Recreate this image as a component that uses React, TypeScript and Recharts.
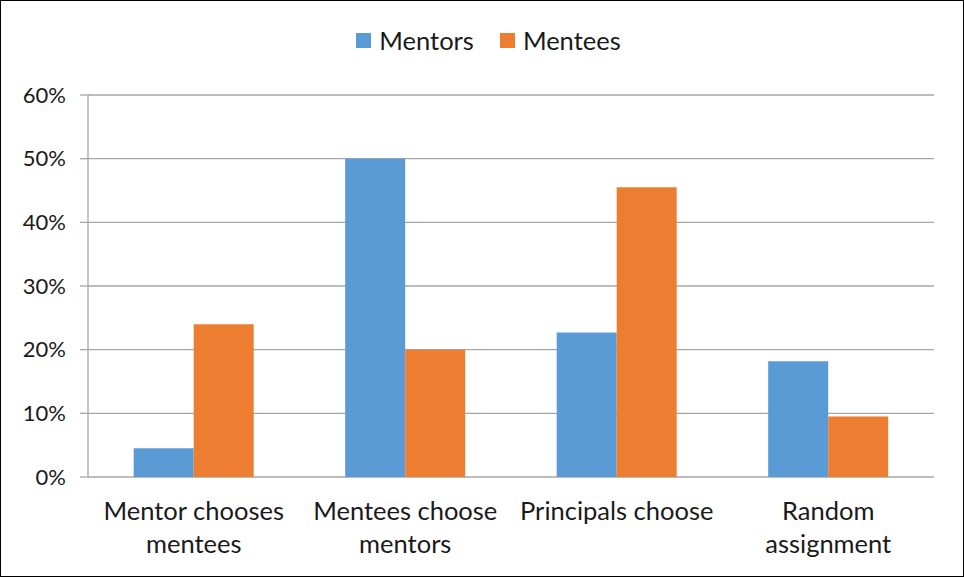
import { BarChart, Bar, XAxis, YAxis, CartesianGrid, Legend } from 'recharts';

const categories = ['Mentor chooses\nmentees', 'Mentees choose\nmentors', 'Principals choose', 'Random\nassignment'];
const mentors = [0.045, 0.5, 0.227, 0.182];
const mentees = [0.24, 0.2, 0.455, 0.095];
const yTicks = [0, 0.1, 0.2, 0.3, 0.4, 0.5, 0.6];
const edgeTicks = [0, 1, 2, 3, 4];

const SERIES = [
  { key: 'mentors', name: 'Mentors', color: '#5B9BD5' },
  { key: 'mentees', name: 'Mentees', color: '#ED7D31' },
];

const FONT = 'Lato, "Open Sans", sans-serif';
const GRID = '#a6a6a6';

const data = categories.map((c, i) => ({ category: c, mentors: mentors[i], mentees: mentees[i] }));

function CategoryTick({ x, y, payload }: any) {
  const lines = String(payload.value).split('\n');
  return (
    <text x={x} y={y} textAnchor="middle" fontFamily={FONT} fontSize={25.5} fill="#1a1a1a">
      {lines.map((line, i) => (
        <tspan key={i} x={x} dy={i === 0 ? 35 : 33}>
          {line}
        </tspan>
      ))}
    </text>
  );
}

function LegendContent() {
  return (
    <div style={{ display: 'flex', justifyContent: 'center', fontFamily: FONT, fontSize: 25.5, color: '#1a1a1a' }}>
      {SERIES.map((s) => (
        <div key={s.key} style={{ display: 'flex', alignItems: 'center', margin: '0 13px' }}>
          <span style={{ width: 15, height: 15, background: s.color, display: 'inline-block', marginRight: 8 }} />
          <span>{s.name}</span>
        </div>
      ))}
    </div>
  );
}

export default function App() {
  return (
    <div
      style={{
        position: 'fixed',
        left: 0,
        top: 0,
        width: 964,
        height: 577,
        boxSizing: 'border-box',
        border: '1px solid #000',
        background: '#fff',
      }}
    >
      <BarChart
        width={962}
        height={575}
        data={data}
        margin={{ top: 94, right: 29, left: 0, bottom: 0 }}
        barCategoryGap="21.6%"
        barGap={0}
      >
        <CartesianGrid xAxisId="cat" vertical={false} stroke={GRID} strokeWidth={1.3} />
        <XAxis
          xAxisId="edge"
          type="number"
          domain={[0, 4]}
          ticks={edgeTicks}
          tick={false}
          tickSize={8}
          height={0}
          stroke={GRID}
          strokeWidth={1.3}
        />
        <XAxis
          xAxisId="cat"
          dataKey="category"
          axisLine={false}
          tickLine={false}
          interval={0}
          height={99}
          tick={<CategoryTick />}
        />
        <YAxis
          width={87}
          domain={[0, 0.6]}
          ticks={yTicks}
          tickFormatter={(v: number) => `${Math.round(v * 100)}%`}
          tickSize={8}
          tickMargin={14}
          stroke={GRID}
          strokeWidth={1.3}
          tick={{ fill: '#1a1a1a', fontFamily: FONT, fontSize: 22 }}
        />
        <Legend
          verticalAlign="middle"
          align="center"
          wrapperStyle={{ top: 24, left: 21 }}
          content={<LegendContent />}
        />
        {SERIES.map((s) => (
          <Bar key={s.key} xAxisId="cat" dataKey={s.key} name={s.name} fill={s.color} isAnimationActive={false} />
        ))}
      </BarChart>
    </div>
  );
}
